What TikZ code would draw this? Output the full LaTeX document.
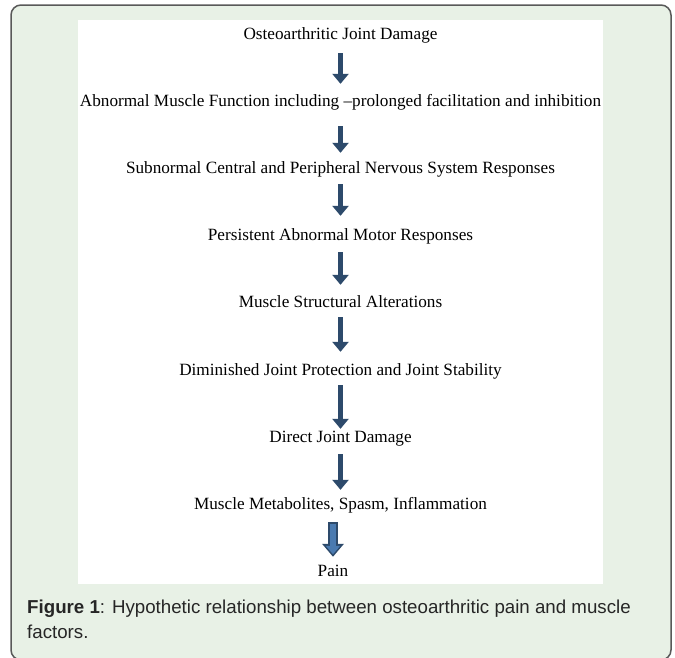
\documentclass[tikz,border=0pt]{standalone}
\usepackage{fontspec}
\setmainfont{Liberation Serif}
\newfontfamily\capfont{Liberation Sans}
\usepackage{xcolor}
\usepackage{tikz}
\usetikzlibrary{arrows.meta}
\definecolor{panelgreen}{HTML}{E8F1E6}
\definecolor{arrowblue}{HTML}{2D4A6B}
\definecolor{painblue}{HTML}{4A7AB0}

\begin{document}
\begin{tikzpicture}[x=1pt, y=-1pt,
	flowtext/.style={font=\fontsize{17.2}{19}\selectfont, inner sep=0pt, text height=11.5pt, text depth=2.5pt},
	flowarrow/.style={arrowblue, line width=5.5pt, -{Triangle[width=16pt, length=10pt]}}]
	\useasboundingbox (0,0) rectangle (675,657);
	\draw[rounded corners=10pt, line width=1.5pt, draw=black!65, fill=panelgreen] (11,5) rectangle (671,660);
	\fill[white] (78,20) rectangle (603,584);
	\node[flowtext] (ost) at (340.5,35) {Osteoarthritic Joint Damage};
	\node[flowtext] (abn) at (340.5,102) {Abnormal Muscle Function including --prolonged facilitation and inhibition};
	\node[flowtext] (sub) at (340.5,169) {Subnormal Central and Peripheral Nervous System Responses};
	\node[flowtext] (pers) at (340.5,236) {Persistent Abnormal Motor Responses};
	\node[flowtext] (struct) at (340.5,303) {Muscle Structural Alterations};
	\node[flowtext] (dimin) at (340.5,371) {Diminished Joint Protection and Joint Stability};
	\node[flowtext] (direct) at (340.5,438) {Direct Joint Damage};
	\node[flowtext] (metab) at (340.5,505) {Muscle Metabolites, Spasm, Inflammation};
	\node[flowtext] (pain) at (333,572) {Pain};
	\foreach \a/\b/\s/\e in {ost/abn/11/11, abn/sub/17/9, sub/pers/8/13, pers/struct/9/11,
		struct/dimin/7/12, dimin/direct/7/2, direct/metab/9/8}
		\draw[flowarrow, shorten <=\s pt, shorten >=\e pt] (\a.south) -- (\b.north);
	\draw[arrowblue, line width=10pt, -{Triangle[width=21pt, length=13pt]}, shorten <=10pt, shorten >=8pt] (pain.north |- metab.south) -- (pain.north);
	\draw[painblue, line width=6pt, -{Triangle[width=14pt, length=8.5pt]}, shorten <=11.5pt, shorten >=10.5pt] (pain.north |- metab.south) -- (pain.north);
	\node[anchor=north west, inner sep=0pt, align=left, text=black!85, font=\capfont\fontsize{18.7}{24.5}\selectfont] (caption) at (27,600)
		{\textbf{Figure 1}: Hypothetic relationship between osteoarthritic pain and muscle\\factors.};
\end{tikzpicture}
\end{document}
